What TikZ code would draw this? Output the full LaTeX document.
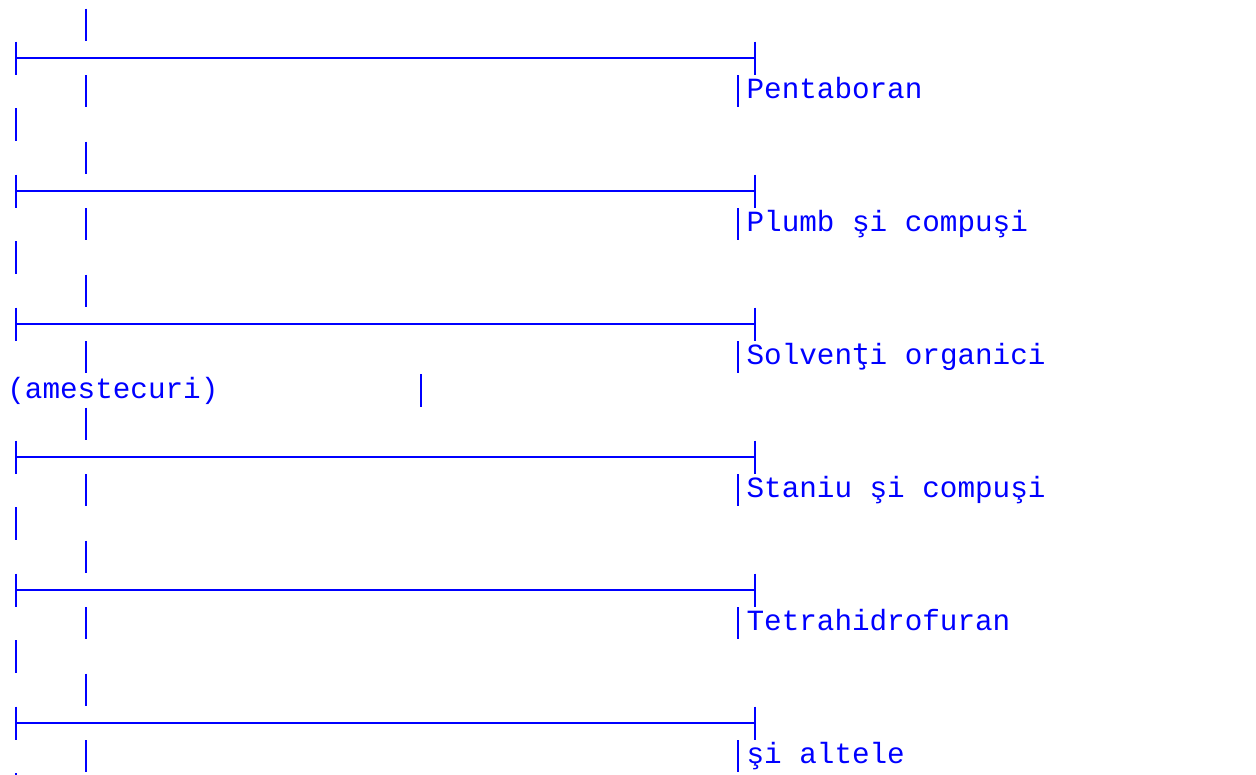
\documentclass[tikz,border=0pt]{standalone}
\usepackage{fontspec}
\setmonofont{Liberation Mono}
\newfontfamily\tcedfont{DejaVu Sans Mono}
\definecolor{tblue}{RGB}{0,0,255}
\def\cW{17.6}
\def\rH{33.25}
\def\oX{7.2}
\def\oY{8.3}
% pipe character at column #1, row #2
\newcommand\asciibar[2]{\draw[barline] ({round(\oX+\cW*(#1+0.5))},{\oY+\rH*(#2)+0.4}) -- ({round(\oX+\cW*(#1+0.5))},{\oY+\rH*(#2+1)-0.8});}
% box row: |---...---| from column 0 to column 42 at row #1
\newcommand\asciibox[1]{%
  \draw[barline] ({round(\oX+\cW*0.5)},{\oY+\rH*(#1)}) -- ({round(\oX+\cW*0.5)},{\oY+\rH*(#1+1)});
  \draw[barline] ({round(\oX+\cW*42.5)},{\oY+\rH*(#1)}) -- ({round(\oX+\cW*42.5)},{\oY+\rH*(#1+1)});
  \draw[barline] ({round(\oX+\cW*0.5)},{round(\oY+\rH*(#1+0.5))}) -- ({round(\oX+\cW*42.5)},{round(\oY+\rH*(#1+0.5))});}
\begin{document}
\begin{tikzpicture}[x=1pt,y=-1pt,
  barline/.style={draw=tblue,line width=2pt},
  lbl/.style={anchor=base west,inner sep=0pt,text=tblue,font=\ttfamily\fontsize{29.3}{33}\selectfont}]
\useasboundingbox (0,0) rectangle (1256,774);
\clip (0,0) rectangle (1256,774);
\foreach \b in {0,...,5}{
  \pgfmathtruncatemacro\ra{4*\b}
  \pgfmathtruncatemacro\rb{4*\b+1}
  \pgfmathtruncatemacro\rc{4*\b+2}
  \pgfmathtruncatemacro\rd{4*\b+3}
  \asciibar{4}{\ra}
  \asciibox{\rb}
  \asciibar{4}{\rc}
  \asciibar{41}{\rc}
  \ifnum\rd=11 \asciibar{23}{\rd}\else\asciibar{0}{\rd}\fi
}
\node[lbl] (t1) at ({\oX+\cW*42},{\oY+\rH*2+24}) {Pentaboran};
\node[lbl] (t2) at ({\oX+\cW*42},{\oY+\rH*6+24}) {Plumb şi compuşi};
\node[lbl] (t3) at ({\oX+\cW*42},{\oY+\rH*10+24}) {Solven\makebox[0.6em][c]{\tcedfont ţ}i organici};
\node[lbl] (t3b) at ({\oX},{\oY+\rH*11+24}) {(amestecuri)};
\node[lbl] (t4) at ({\oX+\cW*42},{\oY+\rH*14+24}) {Staniu şi compuşi};
\node[lbl] (t5) at ({\oX+\cW*42},{\oY+\rH*18+24}) {Tetrahidrofuran};
\node[lbl] (t6) at ({\oX+\cW*42},{\oY+\rH*22+24}) {şi altele};
\end{tikzpicture}
\end{document}
